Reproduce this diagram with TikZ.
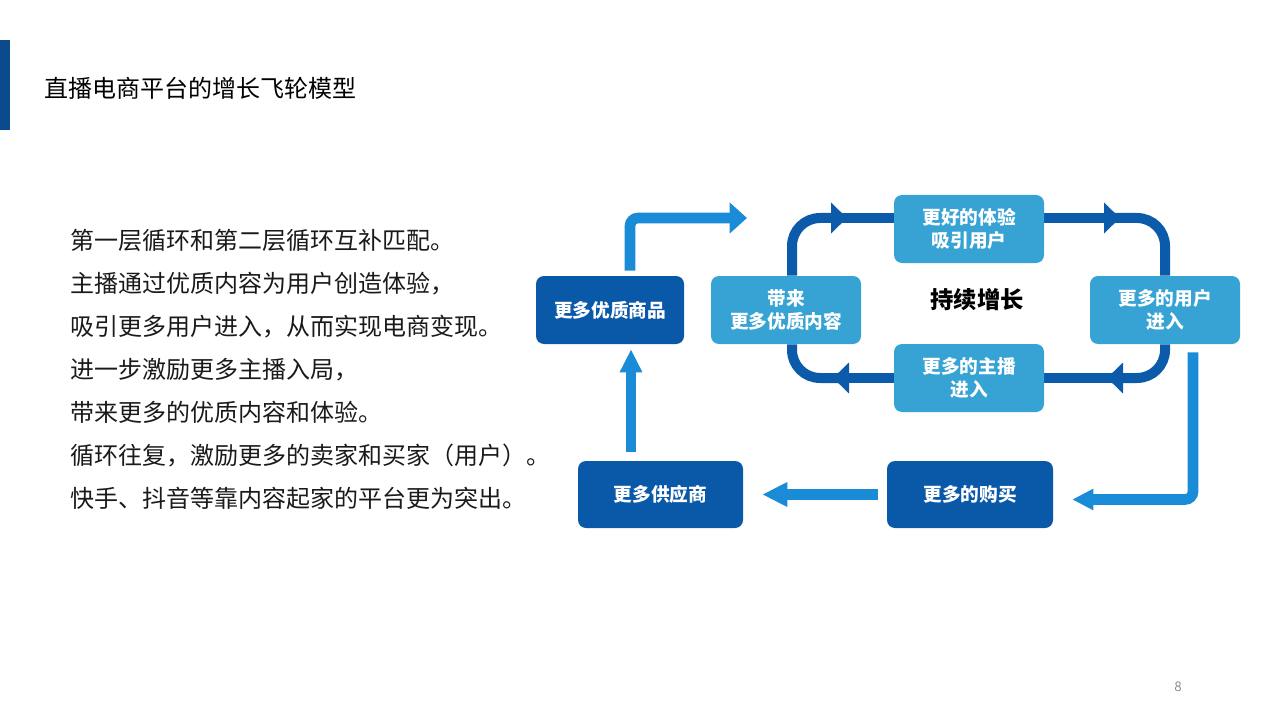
\documentclass[tikz,border=0pt]{standalone}
\usepackage{fontspec}
\newfontfamily\cjk{Noto Sans CJK SC}
\usetikzlibrary{arrows.meta,calc,backgrounds}
\definecolor{darkbox}{HTML}{0A58A8}
\definecolor{lightbox}{HTML}{36A3D4}
\definecolor{loopc}{HTML}{0C5AAA}
\definecolor{arrowc}{HTML}{1A8BD6}
\definecolor{barc}{HTML}{0B4A8C}
\definecolor{bodytext}{HTML}{1A1A1A}
\tikzset{
  box/.style={rounded corners=6pt, minimum height=51pt, inner sep=0pt, align=center, text=white,
    font=\cjk\bfseries\fontsize{14pt}{17.25pt}\selectfont},
  darkb/.style={box, fill=darkbox},
  lightb/.style={box, fill=lightbox, minimum width=112.5pt},
  larrow/.style={draw=arrowc, line width=8pt},
  loopline/.style={draw=loopc, line width=7.5pt},
  looptip/.style={-{Triangle[length=12pt,width=22.5pt]}},
}
\begin{document}
\begin{tikzpicture}[x=0.75pt,y=-0.75pt]
\useasboundingbox (0,0) rectangle (1280,720);
% left bar
\fill[barc] (0,40) rectangle (10,130);
% title
\node[anchor=west, inner sep=0pt, font=\cjk\fontsize{18pt}{22pt}\selectfont] (title) at (44,88) {直播电商平台的增长飞轮模型};
% body text
\node[anchor=west, inner sep=0pt, align=left, text=bodytext, font=\cjk\fontsize{18pt}{32.25pt}\selectfont] (body) at (70,369)
{第一层循环和第二层循环互补匹配。\\
主播通过优质内容为用户创造体验，\\
吸引更多用户进入，从而实现电商变现。\\
进一步激励更多主播入局，\\
带来更多的优质内容和体验。\\
循环往复，激励更多的卖家和买家（用户）。\\
快手、抖音等靠内容起家的平台更为突出。};
% boxes
\node[darkb, minimum width=111pt] (goods) at (610,310) {更多优质商品};
\node[lightb] (bring) at (786,310) {带来\\更多优质内容};
\node[lightb] (exp) at (969,229) {更好的体验\\吸引用户};
\node[lightb] (users) at (1165,310) {更多的用户\\进入};
\node[lightb] (host) at (969,378) {更多的主播\\进入};
\node[darkb, minimum width=123.75pt, minimum height=50.25pt] (supp) at (660.5,494.5) {更多供应商};
\node[darkb, minimum width=124.5pt, minimum height=50.25pt] (buy) at (970,494.5) {更多的购买};
\node[font=\cjk\bfseries\fontsize{17.5pt}{20pt}\selectfont] (grow) at (977,300) {持续增长};
\node[font=\cjk\fontsize{10pt}{12pt}\selectfont, text=black!45] (page) at (1178,687) {8};
% named coordinates
\coordinate (free) at (747,218);
\coordinate (a1) at (847,218);
\coordinate (b1) at (831,218);
\coordinate (a2) at (1120,218);
\coordinate (b2) at (1104,218);
\coordinate (a3) at (1107,378);
\coordinate (b3) at (1123,378);
\coordinate (a4) at (833,378);
\coordinate (b4) at (849,378);
\begin{scope}[on background layer]
  % inner loop
  \draw[loopline] (b1) -- ($(exp.west)+(0,-11)$);
  \draw[loopline, looptip, rounded corners=21pt] ($(bring.north)+(6,0)$) |- (a1);
  \draw[loopline, rounded corners=21pt] (b2) -| (users.north);
  \draw[loopline, looptip] ($(exp.east)+(0,-11)$) -- (a2);
  \draw[loopline] (b3) -- (host.east);
  \draw[loopline, looptip, rounded corners=21pt] (users.south) |- (a3);
  \draw[loopline, rounded corners=21pt] (b4) -| ($(bring.south)+(6,0)$);
  \draw[loopline, looptip] (host.west) -- (a4);
\end{scope}
% outer arrows
\draw[larrow, rounded corners=6pt, -{Triangle[length=13pt,width=22.5pt]}] ($(goods.north)+(20,-5)$) |- (free);
\draw[larrow, -{Triangle[length=17.25pt,width=15.75pt]}] ($(supp.north)+(-29.5,-9)$) -- ($(goods.south)+(21,5)$);
\draw[larrow, -{Triangle[length=18.75pt,width=17.25pt]}] ($(buy.west)+(-9,0)$) -- ($(supp.east)+(19,0)$);
\draw[larrow, rounded corners=6pt, -{Triangle[length=15.75pt,width=15pt]}] ($(users.south)+(28,8)$) |- ($(buy.east)+(19,5)$);
\end{tikzpicture}
\end{document}
